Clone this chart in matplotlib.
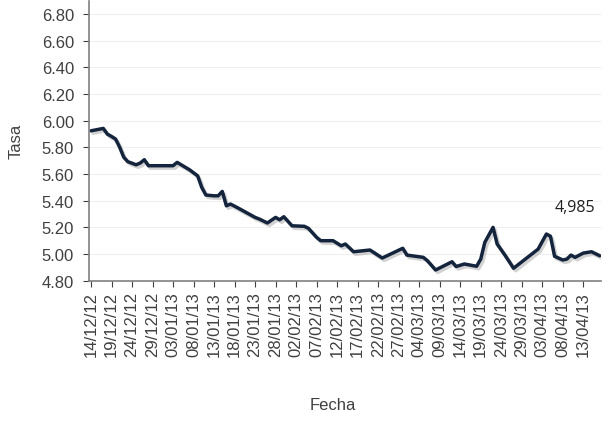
import pandas as pd
import matplotlib.pyplot as plt
import matplotlib.dates as mdates
import matplotlib.patheffects as pe

# valores (fecha, tasa)
fechas = ["2012-12-14", "2012-12-17", "2012-12-18", "2012-12-19", "2012-12-20",
          "2012-12-21", "2012-12-22", "2012-12-23", "2012-12-25", "2012-12-26",
          "2012-12-27", "2012-12-28", "2013-01-03", "2013-01-04", "2013-01-07",
          "2013-01-09", "2013-01-10", "2013-01-11", "2013-01-13", "2013-01-14",
          "2013-01-15", "2013-01-16", "2013-01-17", "2013-01-19", "2013-01-23",
          "2013-01-24", "2013-01-26", "2013-01-28", "2013-01-29", "2013-01-30",
          "2013-02-01", "2013-02-04", "2013-02-05", "2013-02-07", "2013-02-08",
          "2013-02-11", "2013-02-13", "2013-02-14", "2013-02-16", "2013-02-20",
          "2013-02-23", "2013-02-28", "2013-03-01", "2013-03-05", "2013-03-06",
          "2013-03-08", "2013-03-12", "2013-03-13", "2013-03-15", "2013-03-18",
          "2013-03-19", "2013-03-20", "2013-03-22", "2013-03-23", "2013-03-25",
          "2013-03-27", "2013-04-02", "2013-04-04", "2013-04-05", "2013-04-06",
          "2013-04-08", "2013-04-09", "2013-04-10", "2013-04-11", "2013-04-13",
          "2013-04-15", "2013-04-17"]
tasa = [5.924, 5.942, 5.899, 5.882, 5.862,
        5.800, 5.725, 5.692, 5.669, 5.682,
        5.707, 5.662, 5.662, 5.687, 5.632,
        5.586, 5.499, 5.442, 5.436, 5.436,
        5.469, 5.361, 5.374, 5.342, 5.274,
        5.262, 5.232, 5.274, 5.256, 5.279,
        5.211, 5.207, 5.192, 5.124, 5.099,
        5.099, 5.061, 5.074, 5.016, 5.029,
        4.969, 5.042, 4.991, 4.974, 4.949,
        4.879, 4.941, 4.905, 4.924, 4.907,
        4.961, 5.087, 5.199, 5.074, 4.986,
        4.892, 5.036, 5.149, 5.132, 4.982,
        4.954, 4.961, 4.991, 4.974, 5.006,
        5.016, 4.986]
etiqueta_final = "4,985"

df = pd.DataFrame({"fecha": pd.to_datetime(fechas), "tasa": tasa})
ticks_x = pd.date_range("2012-12-14", "2013-04-13", freq="5D")
ticks_y = [4.8 + 0.2 * i for i in range(11)]

plt.rcParams['font.family'] = ['Liberation Sans', 'DejaVu Sans']
fig = plt.figure(figsize=(6.09, 4.27), dpi=100)
ax = fig.add_axes([0.1466, 0.3407, 0.8404, 0.655])

ax.plot(df["fecha"], df["tasa"], color="#14243d", lw=2.5,
        solid_joinstyle="round", solid_capstyle="round",
        path_effects=[pe.SimpleLineShadow(offset=(1.5, -1.8), shadow_color="gray", alpha=0.35),
                      pe.Normal()])

ax.set_ylim(4.8, 6.9)
ax.set_xlim(pd.Timestamp("2012-12-13 14:00"), pd.Timestamp("2013-04-17 08:00"))
ax.set_yticks(ticks_y)
ax.set_yticklabels([f"{v:.2f}" for v in ticks_y])
ax.set_xticks(ticks_x)
ax.xaxis.set_major_formatter(mdates.DateFormatter("%d/%m/%y"))
ax.tick_params(axis="x", rotation=90, labelsize=12, colors="#404040", length=4, direction="out")
ax.tick_params(axis="y", labelsize=12, colors="#404040", length=4, pad=7, direction="out")
ax.tick_params(axis="both", color="#404040")

ax.grid(axis="y", color="#efefef", lw=0.8)
ax.set_axisbelow(True)
for s in ["top", "right"]:
    ax.spines[s].set_visible(False)
for s in ["left", "bottom"]:
    ax.spines[s].set_color("#808080")
    ax.spines[s].set_linewidth(1.2)

ax.set_ylabel("Tasa", fontsize=12, color="#404040")
ax.yaxis.set_label_coords(-0.128, 0.5)
fig.text(0.547, 0.05, "Fecha", ha="center", va="center", fontsize=12, color="#404040")
ax.annotate(etiqueta_final, xy=(df["fecha"].iloc[-1], df["tasa"].iloc[-1]),
            xytext=(-18, 35), textcoords="offset points", ha="center", va="center",
            fontsize=11.5, color="#202020", family=["Open Sans", "DejaVu Sans"])

fig.savefig("out.png", dpi=100)
